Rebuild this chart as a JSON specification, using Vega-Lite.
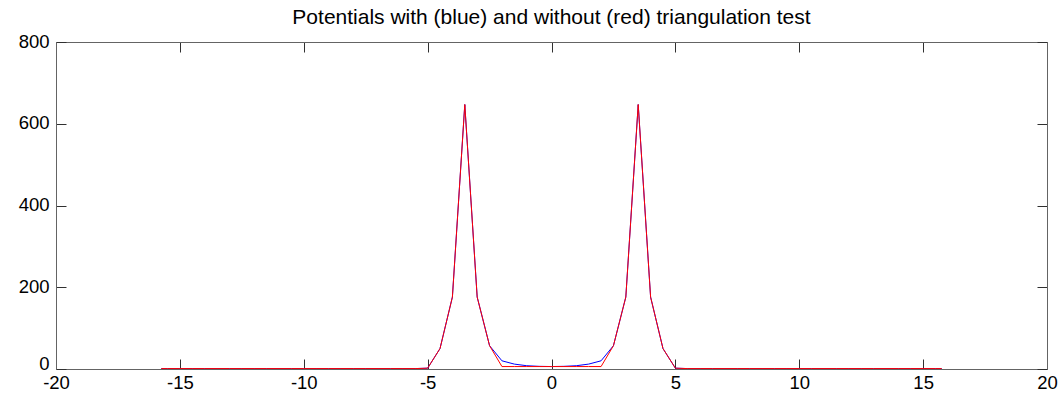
{
  "$schema": "https://vega.github.io/schema/vega-lite/v6.json",
  "autosize": {"type": "none"},
  "width": 991,
  "height": 327,
  "padding": {"left": 56, "top": 42, "right": 17, "bottom": 33},
  "background": "white",
  "title": {
    "text": "Potentials with (blue) and without (red) triangulation test",
    "font": "Liberation Sans",
    "fontSize": 21,
    "fontWeight": "normal",
    "color": "#000000",
    "anchor": "middle",
    "offset": 4
  },
  "config": {
    "view": {"stroke": null},
    "axis": {
      "grid": false,
      "domainColor": "#646464",
      "tickColor": "#303030",
      "labelColor": "#000000",
      "labelFont": "Liberation Sans",
      "labelFontSize": 18.5,
      "title": null,
      "tickSize": -10,
      "labelExpr": "'' + datum.value"
    }
  },
  "data": {
    "values": [
      {"x": -15.75, "series": "blue", "v": 1}, {"x": -15.75, "series": "red", "v": 1},
      {"x": -15.5, "series": "blue", "v": 1}, {"x": -15.5, "series": "red", "v": 1},
      {"x": -15, "series": "blue", "v": 1}, {"x": -15, "series": "red", "v": 1},
      {"x": -14.5, "series": "blue", "v": 1}, {"x": -14.5, "series": "red", "v": 1},
      {"x": -14, "series": "blue", "v": 1}, {"x": -14, "series": "red", "v": 1},
      {"x": -13.5, "series": "blue", "v": 1}, {"x": -13.5, "series": "red", "v": 1},
      {"x": -13, "series": "blue", "v": 1}, {"x": -13, "series": "red", "v": 1},
      {"x": -12.5, "series": "blue", "v": 1}, {"x": -12.5, "series": "red", "v": 1},
      {"x": -12, "series": "blue", "v": 1}, {"x": -12, "series": "red", "v": 1},
      {"x": -11.5, "series": "blue", "v": 1}, {"x": -11.5, "series": "red", "v": 1},
      {"x": -11, "series": "blue", "v": 1}, {"x": -11, "series": "red", "v": 1},
      {"x": -10.5, "series": "blue", "v": 1}, {"x": -10.5, "series": "red", "v": 1},
      {"x": -10, "series": "blue", "v": 1}, {"x": -10, "series": "red", "v": 1},
      {"x": -9.5, "series": "blue", "v": 1}, {"x": -9.5, "series": "red", "v": 1},
      {"x": -9, "series": "blue", "v": 1}, {"x": -9, "series": "red", "v": 1},
      {"x": -8.5, "series": "blue", "v": 1}, {"x": -8.5, "series": "red", "v": 1},
      {"x": -8, "series": "blue", "v": 1}, {"x": -8, "series": "red", "v": 1},
      {"x": -7.5, "series": "blue", "v": 1}, {"x": -7.5, "series": "red", "v": 1},
      {"x": -7, "series": "blue", "v": 1}, {"x": -7, "series": "red", "v": 1},
      {"x": -6.5, "series": "blue", "v": 1}, {"x": -6.5, "series": "red", "v": 1},
      {"x": -6, "series": "blue", "v": 1}, {"x": -6, "series": "red", "v": 1},
      {"x": -5.5, "series": "blue", "v": 1}, {"x": -5.5, "series": "red", "v": 1},
      {"x": -5, "series": "blue", "v": 2}, {"x": -5, "series": "red", "v": 2},
      {"x": -4.5, "series": "blue", "v": 50}, {"x": -4.5, "series": "red", "v": 50},
      {"x": -4, "series": "blue", "v": 176}, {"x": -4, "series": "red", "v": 176},
      {"x": -3.5, "series": "blue", "v": 647}, {"x": -3.5, "series": "red", "v": 647},
      {"x": -3, "series": "blue", "v": 176}, {"x": -3, "series": "red", "v": 176},
      {"x": -2.5, "series": "blue", "v": 57}, {"x": -2.5, "series": "red", "v": 57},
      {"x": -2, "series": "blue", "v": 20}, {"x": -2, "series": "red", "v": 6},
      {"x": -1.5, "series": "blue", "v": 12}, {"x": -1.5, "series": "red", "v": 6},
      {"x": -1, "series": "blue", "v": 8}, {"x": -1, "series": "red", "v": 6},
      {"x": -0.5, "series": "blue", "v": 6.5}, {"x": -0.5, "series": "red", "v": 6},
      {"x": 0, "series": "blue", "v": 6}, {"x": 0, "series": "red", "v": 6},
      {"x": 0.5, "series": "blue", "v": 6.5}, {"x": 0.5, "series": "red", "v": 6},
      {"x": 1, "series": "blue", "v": 8}, {"x": 1, "series": "red", "v": 6},
      {"x": 1.5, "series": "blue", "v": 12}, {"x": 1.5, "series": "red", "v": 6},
      {"x": 2, "series": "blue", "v": 20}, {"x": 2, "series": "red", "v": 6},
      {"x": 2.5, "series": "blue", "v": 57}, {"x": 2.5, "series": "red", "v": 57},
      {"x": 3, "series": "blue", "v": 176}, {"x": 3, "series": "red", "v": 176},
      {"x": 3.5, "series": "blue", "v": 647}, {"x": 3.5, "series": "red", "v": 647},
      {"x": 4, "series": "blue", "v": 176}, {"x": 4, "series": "red", "v": 176},
      {"x": 4.5, "series": "blue", "v": 50}, {"x": 4.5, "series": "red", "v": 50},
      {"x": 5, "series": "blue", "v": 2}, {"x": 5, "series": "red", "v": 2},
      {"x": 5.5, "series": "blue", "v": 1}, {"x": 5.5, "series": "red", "v": 1},
      {"x": 6, "series": "blue", "v": 1}, {"x": 6, "series": "red", "v": 1},
      {"x": 6.5, "series": "blue", "v": 1}, {"x": 6.5, "series": "red", "v": 1},
      {"x": 7, "series": "blue", "v": 1}, {"x": 7, "series": "red", "v": 1},
      {"x": 7.5, "series": "blue", "v": 1}, {"x": 7.5, "series": "red", "v": 1},
      {"x": 8, "series": "blue", "v": 1}, {"x": 8, "series": "red", "v": 1},
      {"x": 8.5, "series": "blue", "v": 1}, {"x": 8.5, "series": "red", "v": 1},
      {"x": 9, "series": "blue", "v": 1}, {"x": 9, "series": "red", "v": 1},
      {"x": 9.5, "series": "blue", "v": 1}, {"x": 9.5, "series": "red", "v": 1},
      {"x": 10, "series": "blue", "v": 1}, {"x": 10, "series": "red", "v": 1},
      {"x": 10.5, "series": "blue", "v": 1}, {"x": 10.5, "series": "red", "v": 1},
      {"x": 11, "series": "blue", "v": 1}, {"x": 11, "series": "red", "v": 1},
      {"x": 11.5, "series": "blue", "v": 1}, {"x": 11.5, "series": "red", "v": 1},
      {"x": 12, "series": "blue", "v": 1}, {"x": 12, "series": "red", "v": 1},
      {"x": 12.5, "series": "blue", "v": 1}, {"x": 12.5, "series": "red", "v": 1},
      {"x": 13, "series": "blue", "v": 1}, {"x": 13, "series": "red", "v": 1},
      {"x": 13.5, "series": "blue", "v": 1}, {"x": 13.5, "series": "red", "v": 1},
      {"x": 14, "series": "blue", "v": 1}, {"x": 14, "series": "red", "v": 1},
      {"x": 14.5, "series": "blue", "v": 1}, {"x": 14.5, "series": "red", "v": 1},
      {"x": 15, "series": "blue", "v": 1}, {"x": 15, "series": "red", "v": 1},
      {"x": 15.5, "series": "blue", "v": 1}, {"x": 15.5, "series": "red", "v": 1},
      {"x": 15.75, "series": "blue", "v": 1}, {"x": 15.75, "series": "red", "v": 1}
    ]
  },
  "layer": [
    {
      "transform": [{"filter": "datum.series === 'blue'"}],
      "mark": {"type": "line", "color": "#0000ff", "strokeWidth": 1, "clip": true},
      "encoding": {
        "x": {"field": "x", "type": "quantitative",
              "scale": {"domain": [-20, 20], "nice": false, "zero": false},
              "axis": {"orient": "bottom", "values": [-20, -15, -10, -5, 0, 5, 10, 15, 20], "labelPadding": 14, "labelFlush": false}},
        "y": {"field": "v", "type": "quantitative",
              "scale": {"domain": [0, 800], "nice": false},
              "axis": {"orient": "left", "values": [0, 200, 400, 600, 800], "labelPadding": 17, "labelFlush": false,
                       "labelOffset": {"condition": {"test": "datum.value === 0", "value": -6}, "value": -1}}}
      }
    },
    {
      "transform": [{"filter": "datum.series === 'red'"}],
      "mark": {"type": "line", "color": "#ff0000", "strokeWidth": 1, "clip": true},
      "encoding": {
        "x": {"field": "x", "type": "quantitative",
              "scale": {"domain": [-20, 20], "nice": false, "zero": false},
              "axis": {"orient": "top", "values": [-20, -15, -10, -5, 0, 5, 10, 15, 20], "labels": false}},
        "y": {"field": "v", "type": "quantitative",
              "scale": {"domain": [0, 800], "nice": false},
              "axis": {"orient": "right", "values": [0, 200, 400, 600, 800], "labels": false}}
      }
    }
  ],
  "resolve": {"axis": {"x": "independent", "y": "independent"}}
}
